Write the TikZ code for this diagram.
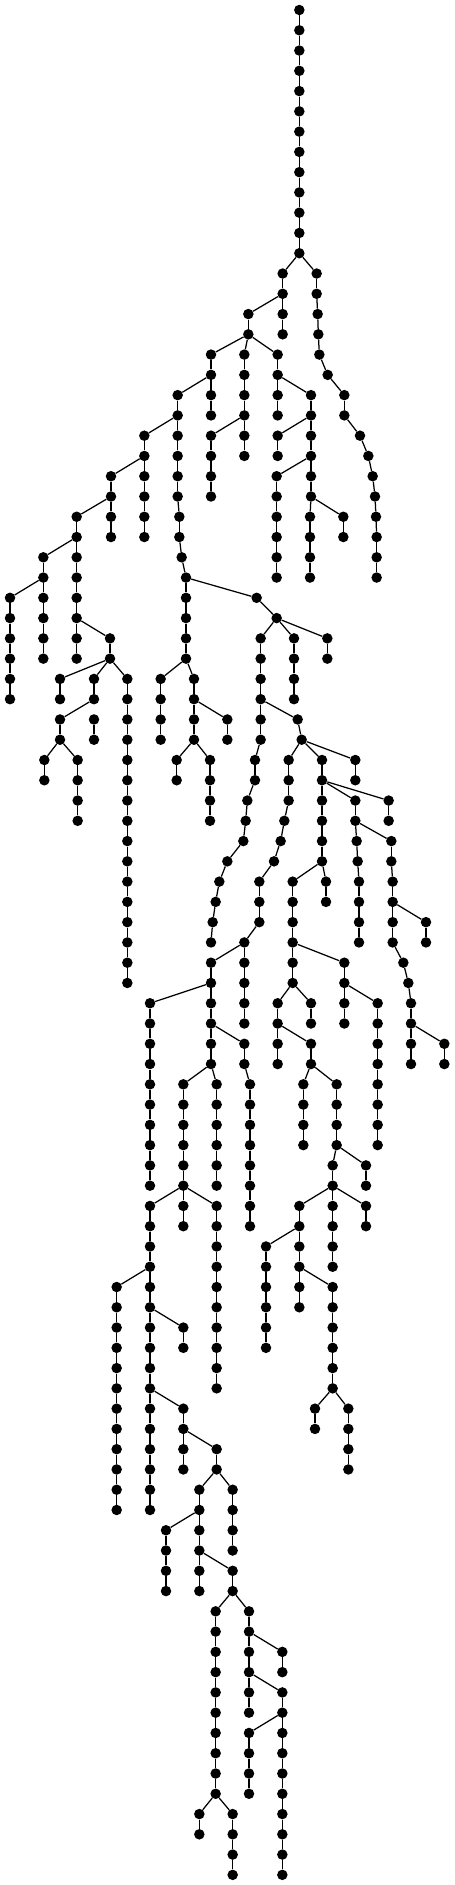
\documentclass[tikz,border=0pt]{standalone}
\tikzset{dot/.style={circle,fill=black,inner sep=0pt,minimum size=10.5pt},
  edge/.style={line width=1.25pt}}
\newcommand\nd[2]{\node[dot] (n#1-#2) at ({#1/3},{10+20.27*#2}) {};}
\newcommand\ed[4]{\draw[edge] (n#1-#2) -- (n#3-#4);}
\newcommand\chain[3]{\foreach \lv in {#2,...,#3}{\nd{#1}{\lv}\ifnum\lv>#2\relax\pgfmathtruncatemacro\plv{\lv-1}\ed{#1}{\plv}{#1}{\lv}\fi}}
\newcommand\myedges[1]{\foreach \a/\b/\c/\d in {#1}{\ed{\a}{\b}{\c}{\d}}}
\begin{document}
\begin{tikzpicture}[x=1pt,y=-1pt]
\useasboundingbox (0,0) rectangle (455,1885);
% chains
\chain{898}{0}{12}
\chain{848}{13}{16}
\chain{950}{13}{14}
\chain{1033}{19}{20}
\chain{1130}{26}{28}
\chain{745}{15}{16}
\chain{633}{17}{20}
\chain{633}{21}{24}
\chain{733}{17}{22}
\chain{833}{17}{20}
\chain{833}{21}{22}
\chain{830}{23}{28}
\chain{933}{19}{24}
\chain{930}{25}{28}
\chain{1030}{25}{26}
\chain{533}{19}{24}
\chain{538}{25}{26}
\chain{558}{28}{32}
\chain{433}{21}{26}
\chain{333}{23}{26}
\chain{230}{25}{32}
\chain{130}{27}{32}
\chain{30}{29}{34}
\chain{330}{31}{32}
\chain{180}{33}{34}
\chain{282}{33}{34}
\chain{282}{35}{36}
\chain{180}{35}{36}
\chain{133}{37}{38}
\chain{233}{37}{40}
\chain{382}{33}{48}
\chain{482}{33}{36}
\chain{582}{33}{36}
\chain{682}{35}{36}
\chain{530}{37}{38}
\chain{630}{37}{40}
\chain{982}{31}{32}
\chain{882}{31}{34}
\chain{782}{31}{36}
\chain{765}{37}{38}
\chain{1066}{37}{38}
\chain{866}{37}{39}
\chain{778}{43}{45}
\chain{733}{47}{50}
\chain{633}{47}{48}
\chain{633}{49}{52}
\chain{733}{51}{52}
\chain{750}{53}{60}
\chain{650}{53}{58}
\chain{550}{53}{58}
\chain{550}{59}{60}
\chain{650}{59}{68}
\chain{450}{49}{58}
\chain{450}{59}{74}
\chain{350}{63}{74}
\chain{550}{65}{66}
\chain{550}{69}{72}
\chain{650}{71}{72}
\chain{698}{73}{76}
\chain{598}{73}{78}
\chain{498}{75}{78}
\chain{698}{77}{78}
\chain{647}{79}{88}
\chain{598}{89}{90}
\chain{698}{89}{92}
\chain{747}{79}{84}
\chain{847}{81}{82}
\chain{847}{83}{92}
\chain{747}{85}{88}
\chain{966}{37}{42}
\chain{1166}{39}{40}
\chain{1066}{39}{40}
\chain{1174}{41}{42}
\chain{1077}{43}{46}
\chain{1178}{43}{46}
\chain{1278}{45}{46}
\chain{1233}{49}{52}
\chain{1333}{51}{52}
\chain{978}{43}{44}
\chain{878}{43}{48}
\chain{1033}{47}{50}
\chain{1133}{49}{56}
\chain{933}{49}{50}
\chain{833}{49}{52}
\chain{933}{51}{52}
\chain{910}{53}{56}
\chain{1010}{53}{56}
\chain{1098}{57}{58}
\chain{998}{57}{58}
\chain{1098}{59}{60}
\chain{998}{59}{62}
\chain{898}{59}{64}
\chain{798}{61}{66}
\chain{998}{63}{68}
\chain{945}{69}{70}
\chain{1045}{69}{72}
% single nodes
\foreach \x/\y in {953/15,955/16,958/17,983/18,1080/21,1105/22,1118/23,1125/24,1128/25,
  545/27,770/29,830/30,742/39,737/40,730/41,682/42,658/43,647/44,638/45,633/46,
  893/35,905/36,853/40,842/41,822/42,733/46,1070/41,1073/42,1210/47,1225/48}{\nd{\x}{\y}}
% cross edges
\myedges{898/12/848/13, 898/12/950/13,
  950/14/953/15, 953/15/955/16, 955/16/958/17, 958/17/983/18, 983/18/1033/19,
  1033/20/1080/21, 1080/21/1105/22, 1105/22/1118/23, 1118/23/1125/24, 1125/24/1128/25, 1128/25/1130/26,
  848/14/745/15, 745/16/633/17, 745/16/733/17, 745/16/833/17,
  633/18/533/19, 733/20/633/21, 833/18/933/19, 933/20/833/21, 933/22/830/23,
  933/24/930/25, 933/24/1030/25,
  533/20/433/21, 533/24/538/25, 538/26/545/27, 545/27/558/28,
  433/22/333/23, 333/24/230/25, 230/26/130/27, 130/28/30/29, 230/30/330/31,
  330/32/180/33, 330/32/282/33, 330/32/382/33, 282/34/180/35,
  180/36/133/37, 180/36/233/37,
  558/28/770/29, 770/29/830/30, 830/30/782/31, 830/30/882/31, 830/30/982/31,
  558/32/482/33, 558/32/582/33, 582/34/682/35, 582/36/530/37, 582/36/630/37,
  782/34/893/35, 893/35/905/36, 905/36/866/37, 905/36/966/37, 905/36/1066/37,
  782/36/765/37, 765/38/742/39, 742/39/737/40, 737/40/730/41, 730/41/682/42,
  682/42/658/43, 658/43/647/44, 647/44/638/45, 638/45/633/46,
  866/39/853/40, 853/40/842/41, 842/41/822/42, 822/42/778/43,
  778/45/733/46, 733/46/633/47, 733/46/733/47,
  633/48/450/49, 633/48/633/49, 633/50/733/51, 733/52/750/53,
  633/52/550/53, 633/52/650/53,
  550/58/450/59, 550/58/550/59, 550/58/650/59,
  450/62/350/63, 450/64/550/65, 450/68/550/69, 550/70/650/71,
  650/72/598/73, 650/72/698/73, 598/74/498/75, 598/76/698/77,
  698/78/647/79, 698/78/747/79, 647/88/598/89, 647/88/698/89,
  747/80/847/81, 747/82/847/83, 847/84/747/85,
  966/38/1066/39, 966/38/1166/39, 1066/40/1070/41, 1066/40/1174/41,
  1070/41/1073/42, 1073/42/1077/43, 1174/42/1178/43, 1178/44/1278/45,
  1178/46/1210/47, 1210/47/1225/48, 1225/48/1233/49, 1233/50/1333/51,
  966/42/878/43, 966/42/978/43, 878/46/1033/47, 1033/48/1133/49,
  878/48/833/49, 878/48/933/49, 833/50/933/51,
  933/52/910/53, 933/52/1010/53, 1010/56/998/57, 1010/56/1098/57,
  998/58/898/59, 998/58/998/59, 998/58/1098/59,
  898/60/798/61, 898/62/998/63, 998/68/945/69, 998/68/1045/69}
\end{tikzpicture}
\end{document}
